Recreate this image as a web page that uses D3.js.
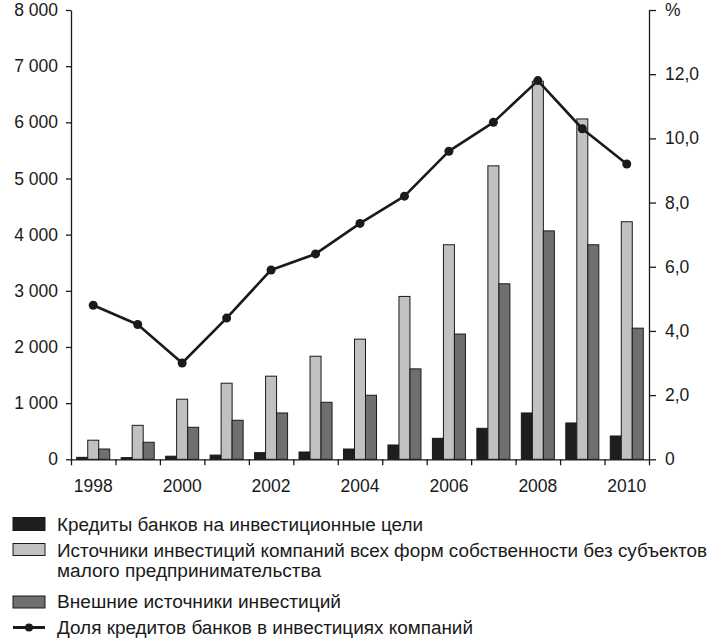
<!DOCTYPE html>
<html>
<head>
<meta charset="utf-8">
<script src="https://cdn.jsdelivr.net/npm/d3@7"></script>
<style>
  html, body { margin: 0; padding: 0; background: #fff; }
  svg { display: block; font-family: "Liberation Sans", Arial, sans-serif; }
</style>
</head>
<body>
<svg id="chart" width="717" height="643"></svg>
<script>
// ---- data ----
const years = [1998, 1999, 2000, 2001, 2002, 2003, 2004, 2005, 2006, 2007, 2008, 2009, 2010];
const bankCredits = [35, 30, 55, 75, 118, 130, 183, 255, 374, 552, 825, 647, 415];
const companySources = [340, 605, 1070, 1355, 1480, 1835, 2140, 2900, 3820, 5225, 6730, 6060, 4230];
const externalSources = [183, 303, 570, 695, 825, 1015, 1140, 1610, 2230, 3125, 4067, 3820, 2335];
const creditShare = [4.8, 4.2, 3.0, 4.4, 5.9, 6.4, 7.35, 8.2, 9.6, 10.5, 11.8, 10.3, 9.2];
const leftTicks = [0, 1000, 2000, 3000, 4000, 5000, 6000, 7000, 8000];
const rightTicks = [0, 2, 4, 6, 8, 10, 12, 14];
const yearLabels = [1998, 2000, 2002, 2004, 2006, 2008, 2010];
const seriesNames = [
  "Кредиты банков на инвестиционные цели",
  "Источники инвестиций компаний всех форм собственности без субъектов",
  "малого предпринимательства",
  "Внешние источники инвестиций",
  "Доля кредитов банков в инвестициях компаний"
];
const seriesColors = ["#1e1e1e", "#c1c1c3", "#6f6f71"];

// ---- layout ----
const svg = d3.select("#chart");
const X0 = 71, X1 = 649, YT = 10, YB = 459.3;

const x = d3.scaleBand().domain(years).range([X0, X1]).paddingInner(0).paddingOuter(0);
const xInner = d3.scaleBand().domain([0, 1, 2]).range([0, x.bandwidth()]).paddingInner(0).paddingOuter(0.52);
const xBound = d3.scaleLinear().domain([0, years.length]).range([X0, X1]);
const yL = d3.scaleLinear().domain([0, 8000]).range([YB, YT]);
const yR = d3.scaleLinear().domain([0, 14]).range([YB, YT]);

const fontSize = 17.5;
const legendFont = 18;

// bars
const seriesData = [bankCredits, companySources, externalSources];
seriesData.forEach((vals, si) => {
  svg.append("g").selectAll("rect").data(vals).join("rect")
    .attr("x", (d, i) => x(years[i]) + xInner(si))
    .attr("y", d => yL(d))
    .attr("width", xInner.bandwidth())
    .attr("height", d => YB - yL(d))
    .attr("fill", seriesColors[si])
    .attr("stroke", "#1a1a1a")
    .attr("stroke-width", 1);
});

// line
const line = d3.line()
  .x((d, i) => x(years[i]) + x.bandwidth() / 2)
  .y(d => yR(d));
svg.append("path").datum(creditShare)
  .attr("d", line)
  .attr("fill", "none")
  .attr("stroke", "#1a1a1a")
  .attr("stroke-width", 2.6)
  .attr("stroke-linejoin", "round");
svg.append("g").selectAll("circle").data(creditShare).join("circle")
  .attr("cx", (d, i) => x(years[i]) + x.bandwidth() / 2)
  .attr("cy", d => yR(d))
  .attr("r", 4.5)
  .attr("fill", "#1a1a1a");

// axes
function styleAxis(g) {
  g.selectAll(".domain").attr("stroke", "#1a1a1a").attr("stroke-width", 1.3);
  g.selectAll(".tick line").attr("stroke", "#1a1a1a").attr("stroke-width", 1.3);
  g.selectAll("text").attr("fill", "#1a1a1a").style("font-size", fontSize + "px")
    .style("font-family", '"Liberation Sans", Arial, sans-serif');
}

const leftAxis = d3.axisLeft(yL).tickValues(leftTicks).tickSize(5).tickPadding(8).tickSizeOuter(0)
  .tickFormat(d => d === 0 ? "0" : d3.format(",")(d).replace(/,/g, " "));
svg.append("g").attr("transform", `translate(${X0},0)`).call(leftAxis).call(styleAxis);

const rightAxis = d3.axisRight(yR).tickValues(rightTicks).tickSize(7).tickPadding(9).tickSizeOuter(0)
  .tickFormat(d => d === 14 ? "%" : (d === 0 ? "0" : d.toFixed(1).replace(".", ",")));
svg.append("g").attr("transform", `translate(${X1},0)`).call(rightAxis).call(styleAxis);

const bottomTicks = d3.axisBottom(xBound).tickValues(d3.range(years.length + 1)).tickSize(6).tickSizeOuter(0).tickFormat("");
svg.append("g").attr("transform", `translate(0,${YB})`).call(bottomTicks).call(styleAxis);

const bottomLabels = d3.axisBottom(x).tickValues(yearLabels).tickSize(0).tickPadding(20);
const bl = svg.append("g").attr("transform", `translate(0,${YB})`).call(bottomLabels).call(styleAxis);
bl.select(".domain").remove();

// legend
const LX = 13, LW = 32, TX = 57;
const legend = svg.append("g");
const swatches = [
  { y: 517.5, h: 13, color: seriesColors[0] },
  { y: 543.5, h: 12, color: seriesColors[1] },
  { y: 596, h: 12, color: seriesColors[2] }
];
swatches.forEach(s => {
  legend.append("rect").attr("x", LX).attr("y", s.y).attr("width", LW).attr("height", s.h)
    .attr("fill", s.color).attr("stroke", "#1a1a1a").attr("stroke-width", 1);
});
legend.append("line").attr("x1", LX).attr("x2", LX + LW).attr("y1", 627.5).attr("y2", 627.5)
  .attr("stroke", "#1a1a1a").attr("stroke-width", 3);
legend.append("circle").attr("cx", LX + LW / 2).attr("cy", 627.5).attr("r", 4).attr("fill", "#1a1a1a");

const legendText = [
  { t: seriesNames[0], y: 530.5, end: 423 },
  { t: seriesNames[1], y: 556.5, end: 707 },
  { t: seriesNames[2], y: 576.5, end: 321 },
  { t: seriesNames[3], y: 608, end: 341 },
  { t: seriesNames[4], y: 634, end: 473 }
];
legendText.forEach(l => {
  legend.append("text").attr("x", TX).attr("y", l.y).text(l.t)
    .attr("fill", "#1a1a1a").style("font-size", legendFont + "px")
    .attr("textLength", l.end - TX).attr("lengthAdjust", "spacingAndGlyphs");
});
</script>
</body>
</html>
